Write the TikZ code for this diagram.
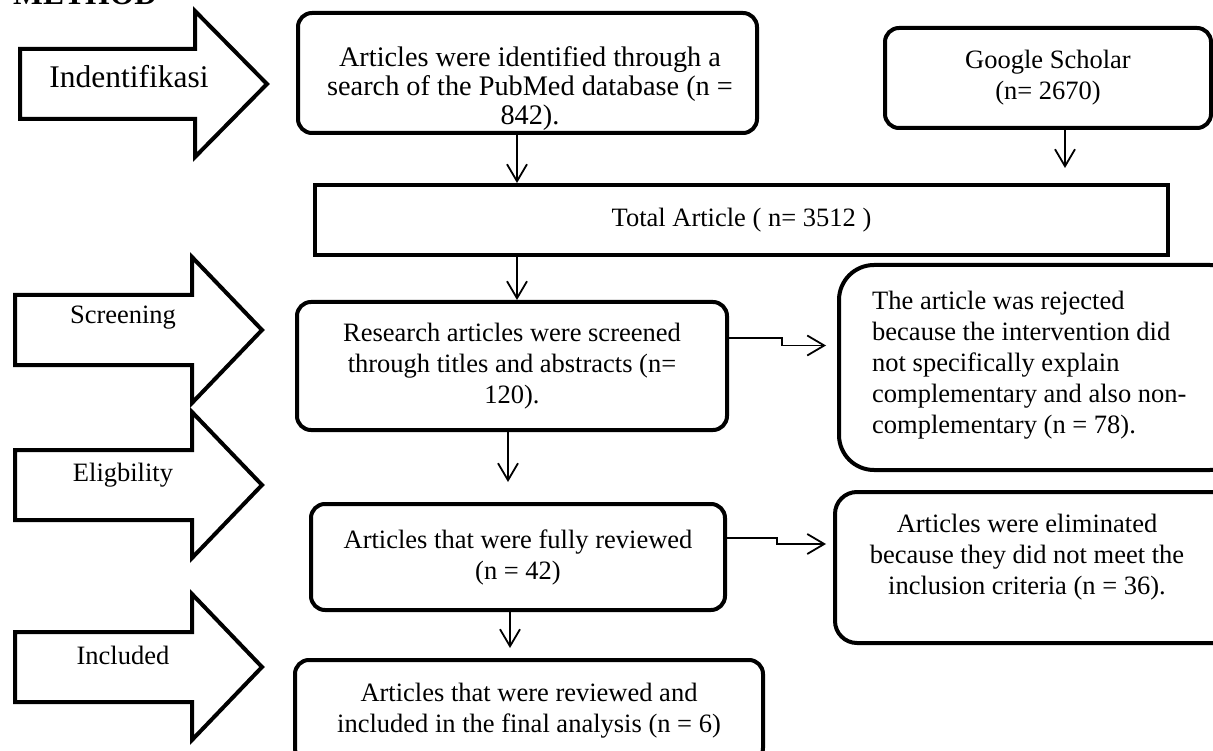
\documentclass[tikz,border=0pt]{standalone}
\usepackage{fontspec}
\setmainfont{Liberation Serif}
\usetikzlibrary{arrows.meta}

\tikzset{
	stage/.style={draw, line width=4pt},
	box/.style={draw, line width=4pt, rounded corners=14pt, inner sep=0pt, align=center, font=\fontsize{26.5}{31}\selectfont},
	rect/.style={draw, line width=4pt, inner sep=0pt, font=\fontsize{26.5}{31}\selectfont},
	txt/.style={inner sep=0pt, align=center, font=\fontsize{26.5}{31}\selectfont},
	conn/.style={line width=1.8pt, -{Straight Barb[length=17pt,width=20pt,line width=1.8pt]}}
}

\begin{document}
\begin{tikzpicture}[x=1pt,y=-1pt]
		\useasboundingbox (0,0) rectangle (1213,751);
		\node[anchor=base west, inner sep=0pt, font=\bfseries\fontsize{31.6}{36}\selectfont] (method) at (13,5) {METHOD};
		\foreach \name/\lbl/\xl/\xb/\xt/\cy/\tx/\ty/\fs in {ident/Indentifikasi/20/195/267/84/129/77/31.5, screen/Screening/15/192/262/330/123/318/26.5, elig/Eligbility/15/192/262/485/123/475/26.5, incl/Included/15/192/262/667/123/655/26.5}{
			\draw[stage] (\xl,\cy-35) -- (\xb,\cy-35) -- (\xb,\cy-73) -- (\xt,\cy) -- (\xb,\cy+73) -- (\xb,\cy+35) -- (\xl,\cy+35) -- cycle;
			\node[inner sep=0pt, font=\fontsize{\fs}{\fs}\selectfont] (\name) at (\tx,\ty) {\lbl};
		}

		\node[box, minimum width=459, minimum height=120] (pubmed) at (527.5,73) {};
		\node[txt, font=\fontsize{28.3}{29}\selectfont] (pubmedtxt) at (530,89) {Articles were identified through a\\search of the PubMed database (n =\\842).};
		\node[box, minimum width=326, minimum height=100] (gs) at (1048,78) {Google Scholar\\(n= 2670)};
		\node[rect, minimum width=853, minimum height=70] (total) at (741.5,220) {Total Article ( n= 3512 )};
		\node[box, minimum width=430, minimum height=128] (research) at (512,366) {Research articles were screened\\through titles and abstracts (n=\\120).};
		\node[box, rounded corners=35pt, minimum width=406, minimum height=205] (reject) at (1042,367.5) {};
		\node[txt, align=left, anchor=west] (rejecttxt) at (872,365) {The article was rejected\\because the intervention did\\not specifically explain\\complementary and also non-\\complementary (n = 78).};
		\node[box, minimum width=414, minimum height=106] (fully) at (518,557) {Articles that were fully reviewed\\(n = 42)};
		\node[box, rounded corners=22pt, minimum width=410, minimum height=151] (elim) at (1040,567.5) {};
		\node[txt] (elimtxt) at (1027,557) {Articles were eliminated\\because they did not meet the\\inclusion criteria (n = 36).};
		\node[box, minimum width=468, minimum height=102] (final) at (529,711) {Articles that were reviewed and\\included in the final analysis (n = 6)};

		\coordinate (pmcol) at (517,0);
		\coordinate (gsend) at (1065,168);
		\coordinate (fullyin) at (508,482);
		\coordinate (finalin) at (510,648);
		\draw[conn] (pubmed.south -| pmcol) -- (total.north -| pmcol);
		\draw[conn] (gs.south -| gsend) -- (gsend);
		\draw[conn] (total.south -| pmcol) -- (research.north -| pmcol);
		\draw[conn] (research.south -| fullyin) -- (fullyin);
		\draw[conn] (fully.south -| finalin) -- (finalin);
		\draw[conn] ([yshift=28pt]research.east) -- ++(53,0) |- ([xshift=-11pt,yshift=22pt]reject.west);
		\draw[conn] ([yshift=19pt]fully.east) -- ++(50,0) |- ([xshift=-7pt,yshift=23.5pt]elim.west);
	\end{tikzpicture}
\end{document}
